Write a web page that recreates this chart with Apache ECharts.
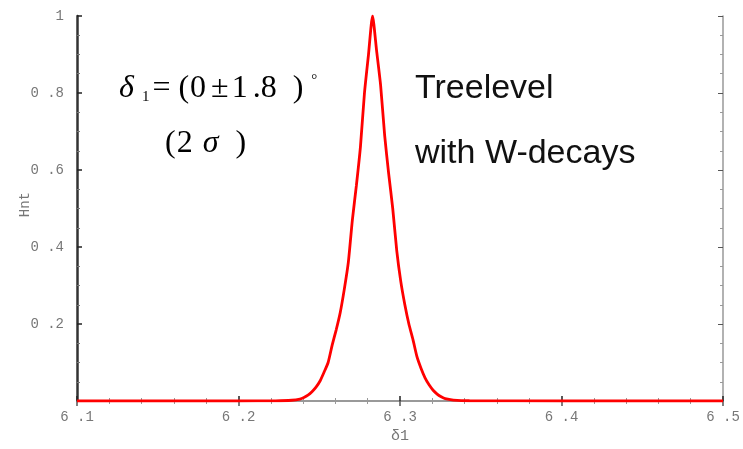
<!DOCTYPE html>
<html>
<head>
<meta charset="utf-8">
<script src="https://cdn.jsdelivr.net/npm/echarts@6/dist/echarts.min.js"></script>
<style>html,body{margin:0;padding:0;background:#fff}#c{width:743px;height:449px}</style>
</head>
<body>
<div id="c"></div>
<script>
// data
var xValues = [6.1, 6.2, 6.223, 6.233, 6.238, 6.2405, 6.243, 6.2455, 6.248, 6.2505, 6.253, 6.2555, 6.258, 6.2605, 6.263, 6.2655, 6.268, 6.2705, 6.273, 6.2755, 6.278, 6.2805, 6.283,
  6.2855, 6.288, 6.2905, 6.293, 6.2955, 6.298, 6.3005, 6.303, 6.3055, 6.308, 6.3105, 6.313, 6.3155, 6.318, 6.3205, 6.323, 6.3255, 6.328, 6.333, 6.343, 6.4, 6.5];
var yValues = [0, 0, 0.0005, 0.002, 0.005, 0.009, 0.015, 0.024, 0.036, 0.052, 0.075, 0.10, 0.145, 0.185, 0.23, 0.29, 0.36, 0.47, 0.56, 0.66, 0.80, 0.90, 1.0,
  0.91, 0.82, 0.69, 0.59, 0.50, 0.39, 0.31, 0.25, 0.20, 0.16, 0.115, 0.085, 0.06, 0.042, 0.028, 0.018, 0.011, 0.006, 0.0025, 0.0006, 0, 0];
var xTicks = [6.1, 6.2, 6.3, 6.4, 6.5];
var yTicks = [0.2, 0.4, 0.6, 0.8, 1];

var chart = echarts.init(document.getElementById('c'));
var labelFont = {fontFamily: '"Liberation Mono","DejaVu Sans Mono",monospace', fontSize: 14, color: '#777'};
var pts = xValues.map(function (x, i) { return [x, yValues[i]]; });
var serif = '"Liberation Serif","Times New Roman",serif';
chart.setOption({
  animation: false,
  backgroundColor: '#fff',
  grid: {left: 77, right: 20, top: 16, bottom: 43},
  xAxis: [{
    type: 'value', min: 6.1, max: 6.5, interval: 0.1,
    axisLine: {lineStyle: {color: '#999', width: 2}},
    axisTick: {inside: true, length: 5, lineStyle: {color: '#222', width: 1.5}},
    minorTick: {show: true, splitNumber: 5, length: 3, lineStyle: {color: '#999'}},
    splitLine: {show: false},
    axisLabel: Object.assign({margin: 9, formatter: function (v) {
      var t = +v.toFixed(1);
      return xTicks.indexOf(t) >= 0 ? t.toFixed(1).replace('.', ' .') : ''; }}, labelFont),
    name: 'δ1', nameLocation: 'middle', nameGap: 28,
    nameTextStyle: {fontFamily: '"Liberation Mono",monospace', fontSize: 15, color: '#777'}
  }, {
    type: 'value', min: 6.1, max: 6.5, interval: 0.1, position: 'top',
    axisLine: {lineStyle: {color: '#999', width: 1.5}},
    axisTick: {inside: true, length: 5, lineStyle: {color: '#555', width: 1.5}},
    minorTick: {show: true, splitNumber: 5, length: 3, lineStyle: {color: '#999'}},
    splitLine: {show: false}, axisLabel: {show: false}
  }],
  yAxis: [{
    type: 'value', min: 0, max: 1, interval: 0.2,
    axisLine: {show: true, lineStyle: {color: '#333', width: 2.5}},
    axisTick: {inside: true, length: 5, lineStyle: {color: '#222', width: 1.5}},
    minorTick: {show: true, splitNumber: 4, length: 3, lineStyle: {color: '#777'}},
    splitLine: {show: false},
    axisLabel: Object.assign({margin: 13, formatter: function (v) {
      var t = +v.toFixed(1);
      return yTicks.indexOf(t) >= 0 ? (t === 1 ? '1' : t.toFixed(1).replace('.', ' .')) : ''; }}, labelFont)
  }, {
    type: 'value', min: 0, max: 1, interval: 0.2, position: 'right',
    axisLine: {show: true, lineStyle: {color: '#999', width: 1.5}},
    axisTick: {inside: true, length: 5, lineStyle: {color: '#555'}},
    minorTick: {show: true, splitNumber: 4, length: 3, lineStyle: {color: '#999'}},
    splitLine: {show: false}, axisLabel: {show: false}
  }],
  series: [{
    type: 'line', data: pts, showSymbol: false, smooth: 0.2,
    lineStyle: {color: '#ff0000', width: 2.8}, z: 5
  }],
  graphic: [
    {type: 'text', left: 18, top: 192, rotation: Math.PI / 2, style: {text: 'Hnt', font: '14px "Liberation Mono", monospace', fill: '#777'}},
    {type: 'text', left: 119, top: 73, style: {
      text: '{d|δ}{s|1}{e|=}{p|(}{z|0}{pm|±}{o|1}{dot|.}{n|8}{c|)}{g|°}',
      rich: {
        d: {fontFamily: serif, fontStyle: 'italic', fontSize: 32, color: '#1b2146'},
        s: {fontFamily: serif, fontSize: 15, color: '#3a2a66', verticalAlign: 'bottom', padding: [14, 0, 0, 8]},
        e: {fontFamily: serif, fontSize: 32, color: '#1b2146', padding: [0, 0, 0, 3]},
        p: {fontFamily: serif, fontSize: 32, color: '#2a4a8a', padding: [0, 0, 0, 8]},
        z: {fontFamily: serif, fontSize: 32, color: '#1b2146', padding: [0, 0, 0, 1]},
        pm: {fontFamily: serif, fontSize: 32, color: '#1b2146', padding: [0, 0, 0, 5]},
        o: {fontFamily: serif, fontSize: 32, color: '#1b2146', padding: [0, 0, 0, 3]},
        dot: {fontFamily: serif, fontSize: 32, color: '#1b2146', padding: [0, 0, 0, 5]},
        n: {fontFamily: serif, fontSize: 32, color: '#1b2146'},
        c: {fontFamily: serif, fontSize: 32, color: '#2a4a8a', padding: [0, 0, 0, 16]},
        g: {fontFamily: serif, fontSize: 15, color: '#1b2146', verticalAlign: 'top', padding: [0, 0, 16, 8]}
      }}},
    {type: 'text', left: 165, top: 128, style: {
      text: '{n|(}{t|2}{i|σ}{c|)}',
      rich: {
        n: {fontFamily: serif, fontSize: 32, color: '#111'},
        t: {fontFamily: serif, fontSize: 32, color: '#111', padding: [0, 0, 0, 1]},
        i: {fontFamily: serif, fontStyle: 'italic', fontSize: 32, color: '#111', padding: [0, 0, 0, 10]},
        c: {fontFamily: serif, fontSize: 32, color: '#111', padding: [0, 0, 0, 17]}
      }}},
    {type: 'text', left: 415, top: 72, style: {text: 'Treelevel', font: '34px "Liberation Sans", Arial, sans-serif', fill: '#111'}},
    {type: 'text', left: 415, top: 137, style: {text: 'with W-decays', font: '34px "Liberation Sans", Arial, sans-serif', fill: '#111'}}
  ]
});
</script>
</body>
</html>
